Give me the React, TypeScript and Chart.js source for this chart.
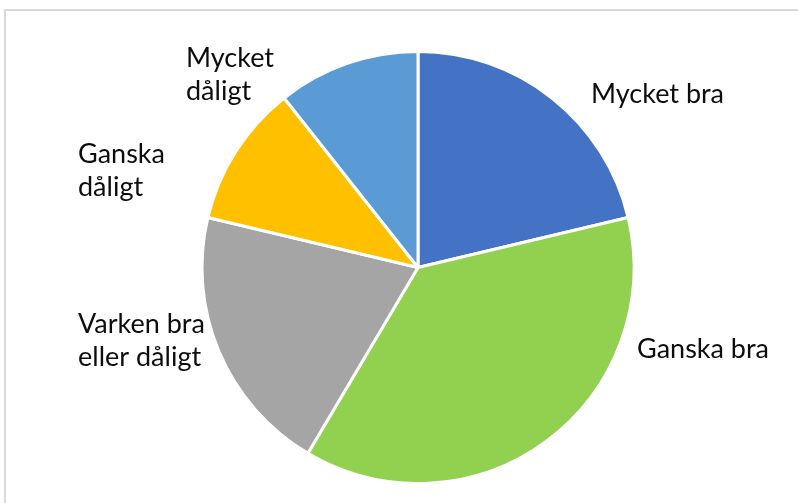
import React, { useEffect, useRef } from "react";
import { Chart, registerables } from "chart.js";

Chart.register(...registerables);

const categories = [
  "Mycket bra",
  "Ganska bra",
  "Varken bra eller dåligt",
  "Ganska dåligt",
  "Mycket dåligt",
];
const labelLines = [
  ["Mycket bra"],
  ["Ganska bra"],
  ["Varken bra", "eller dåligt"],
  ["Ganska", "dåligt"],
  ["Mycket", "dåligt"],
];
const values = [20, 35, 19, 10, 10];
const colors = ["#4472C4", "#92D050", "#A5A5A5", "#FFC000", "#5B9BD5"];

// label placement: offset of text left edge / first baseline from pie center (px)
const labelOffsets: [number, number][] = [
  [173, -165],
  [219, 90],
  [-340, 65],
  [-340, -105],
  [-232, -201],
];

const FONT_SIZE = 27;
const LINE_HEIGHT = 33;

const labelPlugin = {
  id: "outerLabels",
  beforeDraw(chart: any) {
    const ctx = chart.ctx;
    ctx.save();
    ctx.strokeStyle = "#D9D9D9";
    ctx.lineWidth = 2;
    ctx.strokeRect(5, 10, 1000, 1000);
    ctx.restore();
  },
  afterDatasetsDraw(chart: any) {
    const ctx = chart.ctx;
    const meta = chart.getDatasetMeta(0);
    if (!meta.data.length) return;
    const arc = meta.data[0];
    const cx = arc.x;
    const cy = arc.y;
    ctx.save();
    ctx.fillStyle = "#0d0d0d";
    ctx.font = `${FONT_SIZE}px Lato, "Open Sans", sans-serif`;
    ctx.textAlign = "left";
    ctx.textBaseline = "alphabetic";
    labelLines.forEach((lines, i) => {
      const [dx, dy] = labelOffsets[i];
      lines.forEach((line, j) => {
        ctx.fillText(line, cx + dx, cy + dy + j * LINE_HEIGHT);
      });
    });
    ctx.restore();
  },
};

export default function App() {
  const ref = useRef<HTMLCanvasElement>(null);
  useEffect(() => {
    if (!ref.current) return;
    const chart = new Chart(ref.current, {
      type: "pie",
      data: {
        labels: categories,
        datasets: [
          {
            data: values,
            backgroundColor: colors,
            borderColor: "#FFFFFF",
            borderWidth: 3,
          },
        ],
      },
      options: {
        responsive: false,
        animation: false,
        radius: 216,
        layout: { padding: { left: 58, right: 20, top: 52, bottom: 20 } },
        plugins: {
          legend: { display: false },
          tooltip: { enabled: false },
        },
      } as any,
      plugins: [labelPlugin],
    });
    return () => chart.destroy();
  }, []);
  return (
    <div
      style={{
        position: "fixed",
        left: 0,
        top: 0,
        width: 798,
        height: 503,
        overflow: "hidden",
        background: "#fff",
      }}
    >
      <canvas ref={ref} width={798} height={503} style={{ display: "block" }} />
    </div>
  );
}
